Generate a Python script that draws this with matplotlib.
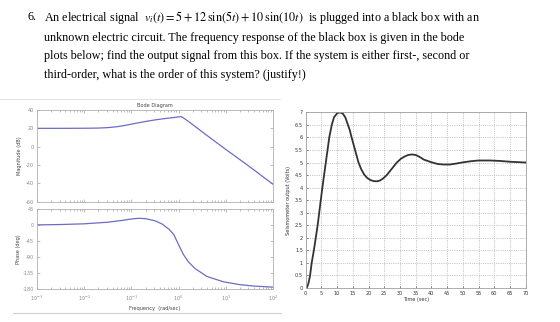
import numpy as np
import matplotlib
matplotlib.use("Agg")
import matplotlib.pyplot as plt
from matplotlib.lines import Line2D

# -----------------------------
# Data
# -----------------------------
mag_logw = [-3.0, -2.5, -2.0, -1.7, -1.5, -1.3, -1.1, -0.9, -0.7, -0.5, -0.3, -0.1,
            0.0, 0.05, 0.1, 0.3, 0.6, 1.0, 1.31, 1.6, 2.0]
mag_db = [20.0, 20.0, 20.1, 20.3, 20.8, 21.8, 23.5, 25.6, 27.5, 29.2, 30.6, 31.8,
          32.5, 32.8, 31.5, 24.0, 12.3, -3.0, -14.5, -25.5, -41.0]

phase_logw = [-3.0, -2.5, -2.0, -1.5, -1.2, -1.0, -0.85, -0.7, -0.5, -0.35, -0.2, -0.1,
              0.0, 0.1, 0.2, 0.35, 0.6, 0.95, 1.3, 1.6, 2.0]
phase_deg = [0.5, 1.5, 3.5, 8.0, 13.0, 17.0, 19.0, 18.0, 12.0, 3.0, -12.0, -27.0,
             -55.0, -82.0, -102.0, -122.0, -144.0, -159.0, -167.0, -171.0, -174.0]

step_t = [0.0, 0.4, 0.8, 1.4, 1.9, 2.6, 3.2, 3.8, 4.3, 4.8, 5.3, 5.85, 6.4, 6.95, 7.5,
          8.3, 9.0, 10.0, 10.9, 11.8, 12.6, 13.3, 14.0, 14.6, 15.7, 16.8, 17.6, 18.6,
          19.6, 20.6, 21.6, 22.6, 23.6, 24.6, 25.8, 27.4, 29.0, 30.3, 31.5, 32.6, 33.8,
          35.0, 36.3, 37.5, 40.0, 42.0, 43.8, 45.9, 48.0, 50.2, 52.5, 55.0, 58.7, 62.0,
          65.0, 70.0]
step_v = [0.0, 0.03, 0.15, 0.5, 1.0, 1.5, 2.0, 2.5, 3.0, 3.5, 4.0, 4.5, 5.0, 5.5, 6.0,
          6.5, 6.8, 6.96, 7.0, 6.95, 6.8, 6.55, 6.3, 6.0, 5.5, 5.0, 4.75, 4.52,
          4.38, 4.3, 4.26, 4.25, 4.28, 4.36, 4.5, 4.75, 5.0, 5.15, 5.24, 5.3, 5.32,
          5.3, 5.22, 5.12, 5.01, 4.94, 4.92, 4.92, 4.96, 5.01, 5.05, 5.08, 5.08, 5.06,
          5.03, 5.0]

mag_ticks = [40, 20, 0, -20, -40, -60]
phase_ticks = [45, 0, -45, -90, -135, -180]
time_ticks = list(range(0, 75, 5))
volt_ticks = [0, 0.5, 1, 1.5, 2, 2.5, 3, 3.5, 4, 4.5, 5, 5.5, 6, 6.5, 7]
volt_labels = ["0", "0.5", "1", "1.5", "2", "2.5", "3", "3.5", "4", "4.5", "5", "5.5", "6", "6.5", "7"]

question_lines = [
    r"An electrical signal  $v_i(t) = 5 + 12\,\sin(5t) + 10\,\sin(10t)$  is plugged into a black box with an",
    "unknown electric circuit. The frequency response of the black box is given in the bode",
    "plots below; find the output signal from this box. If the system is either first-, second or",
    "third-order, what is the order of this system? (justify!)",
]

# -----------------------------
# Figure
# -----------------------------
W, H = 560, 322
plt.rcParams["mathtext.fontset"] = "stix"
fig = plt.figure(figsize=(W / 100, H / 100), dpi=100)
fig.patch.set_facecolor("white")


def fx(px):
    return px / W


def fy(py):
    return 1 - py / H


serif = ["Liberation Serif", "DejaVu Serif"]
fig.text(fx(27), fy(17), "6.", family=serif, fontsize=8.75, va="center")
line_y = [17, 37.5, 56.5, 75]
for txt, yy in zip(question_lines, line_y):
    fig.text(fx(44), fy(yy), txt, family=serif, fontsize=8.75, va="center")

# faint separator / panel frame lines
fig.add_artist(Line2D([fx(0), fx(280)], [fy(99), fy(99)], color="#dddddd", lw=0.6))
fig.add_artist(Line2D([fx(13), fx(281)], [fy(313), fy(313)], color="#d0d0d0", lw=0.8))

# -----------------------------
# Bode plots
# -----------------------------
grey = "#8a8a8a"
bode_color = "#6c6cc4"
small = 3.6

ax_mag = fig.add_axes([fx(37), fy(201.7), fx(273) - fx(37), fy(110) - fy(201.7)])
ax_ph = fig.add_axes([fx(37), fy(289.3), fx(273) - fx(37), fy(209) - fy(289.3)])

ax_mag.plot(np.power(10.0, mag_logw), mag_db, color=bode_color, lw=0.9)
ax_ph.plot(np.power(10.0, phase_logw), phase_deg, color=bode_color, lw=0.9)

for ax, ticks in [(ax_mag, mag_ticks), (ax_ph, phase_ticks)]:
    ax.set_xscale("log")
    ax.set_xlim(1e-3, 1e2)
    ax.set_ylim(min(ticks), max(ticks))
    ax.set_yticks(ticks)
    ax.set_yticklabels([str(t) for t in ticks])
    ax.tick_params(axis="both", which="both", direction="in", colors=grey,
                   labelsize=small, top=True, right=True, length=1.5, width=0.4, pad=2)
    ax.tick_params(axis="both", which="major", length=2.5)
    for sp in ax.spines.values():
        sp.set_color("#b0b0b0")
        sp.set_linewidth(0.6)

ax_mag.tick_params(axis="x", labelbottom=False)
ax_ph.set_xticks([1e-3, 1e-2, 1e-1, 1e0, 1e1, 1e2])
ax_ph.tick_params(axis="x", pad=3)

ax_mag.set_ylabel("Magnitude (dB)", fontsize=small, color="#444444", labelpad=3)
ax_ph.set_ylabel("Phase (deg)", fontsize=small, color="#444444", labelpad=1)
ax_ph.set_xlabel("Frequency  (rad/sec)", fontsize=small, color="#444444", labelpad=2)
ax_mag.set_title("Bode Diagram", fontsize=small, color="#444444", pad=2)

# -----------------------------
# Step response
# -----------------------------
ax_st = fig.add_axes([fx(305.7), fy(288), fx(525.7) - fx(305.7), fy(112.3) - fy(288)])
ax_st.plot(step_t, step_v, color="#333333", lw=1.3)
ax_st.set_xlim(0, 70)
ax_st.set_ylim(0, 7)
ax_st.set_xticks(time_ticks)
ax_st.set_yticks(volt_ticks)
ax_st.set_yticklabels(volt_labels)
ax_st.grid(True, color="#9a9a9a", linestyle=":", linewidth=0.5)
ax_st.tick_params(axis="both", direction="in", labelsize=small, colors="#333333",
                  length=1.5, width=0.4, pad=2)
for sp in ax_st.spines.values():
    sp.set_color("#a0a0a0")
    sp.set_linewidth(0.6)
ax_st.set_xlabel("Time (sec)", fontsize=small, color="#333333", labelpad=1)
ax_st.set_ylabel("Seismometer output (Volts)", fontsize=small, color="#333333", labelpad=3)

fig.savefig("out.png", dpi=100)
